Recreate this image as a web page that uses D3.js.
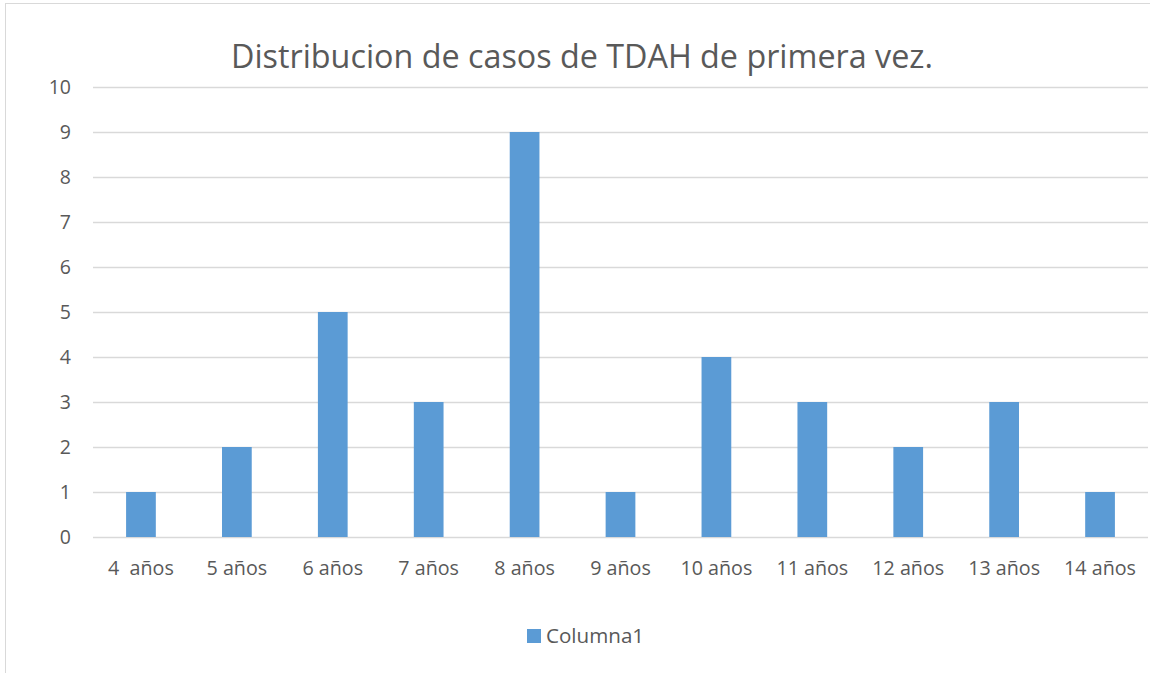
<!DOCTYPE html>
<html>
<head>
<meta charset="utf-8">
<script src="https://cdn.jsdelivr.net/npm/d3@7"></script>
<style>
  body { margin: 0; background: #fff; }
  svg { display: block; font-family: "Open Sans", sans-serif; }
</style>
</head>
<body>
<svg id="chart"></svg>
<script>
// chart values
const categories = ['4  años', '5 años', '6 años', '7 años', '8 años', '9 años',
  '10 años', '11 años', '12 años', '13 años', '14 años'];
const values = [1, 2, 5, 3, 9, 1, 4, 3, 2, 3, 1];
const yTicks = [0, 1, 2, 3, 4, 5, 6, 7, 8, 9, 10];
const seriesName = 'Columna1';
const title = 'Distribucion de casos de TDAH de primera vez.';

const W = 1150, H = 673;
const BAR = '#5b9bd5', GRID = '#d9d9d9', TEXT = '#595959';

const svg = d3.select('#chart').attr('width', W).attr('height', H);

// outer frame of the chart
svg.append('rect')
  .attr('x', 5.5).attr('y', 3.5)
  .attr('width', W + 10).attr('height', H + 10)
  .attr('fill', '#fff')
  .attr('stroke', GRID);

const x = d3.scaleBand()
  .domain(categories)
  .range([93, 1148])
  .paddingInner(0.69)
  .paddingOuter(0.345);

const y = d3.scaleLinear().domain([0, 10]).range([537, 87]);

// gridlines
svg.append('g')
  .selectAll('line')
  .data(yTicks)
  .enter()
  .append('line')
  .attr('x1', 93).attr('x2', 1148)
  .attr('y1', d => Math.round(y(d)) + 0.5)
  .attr('y2', d => Math.round(y(d)) + 0.5)
  .attr('stroke', GRID)
  .attr('stroke-width', 1.3);

// y labels
svg.append('g')
  .selectAll('text')
  .data(yTicks)
  .enter()
  .append('text')
  .attr('x', 71)
  .attr('y', d => y(d))
  .attr('dy', '0.36em')
  .attr('text-anchor', 'end')
  .attr('font-size', 19.5)
  .attr('fill', TEXT)
  .text(d => d);

// bars
svg.append('g')
  .selectAll('rect')
  .data(values)
  .enter()
  .append('rect')
  .attr('x', (d, i) => x(categories[i]))
  .attr('width', x.bandwidth())
  .attr('y', d => y(d))
  .attr('height', d => y(0) - y(d))
  .attr('fill', BAR);

// category labels
svg.append('g')
  .selectAll('text')
  .data(categories)
  .enter()
  .append('text')
  .attr('x', d => x(d) + x.bandwidth() / 2)
  .attr('y', 568)
  .attr('dy', '0.36em')
  .attr('text-anchor', 'middle')
  .attr('font-size', 19.7)
  .attr('fill', TEXT)
  .style('white-space', 'pre')
  .text(d => d);

// title
svg.append('text')
  .attr('x', 582)
  .attr('y', 56)
  .attr('dy', '0.36em')
  .attr('text-anchor', 'middle')
  .attr('font-size', 32.3)
  .attr('fill', TEXT)
  .text(title);

// legend
const legend = svg.append('g');
legend.append('rect')
  .attr('x', 527).attr('y', 629)
  .attr('width', 14).attr('height', 14)
  .attr('fill', BAR);
legend.append('text')
  .attr('x', 546).attr('y', 636)
  .attr('dy', '0.36em')
  .attr('font-size', 20.6)
  .attr('fill', TEXT)
  .text(seriesName);
</script>
</body>
</html>
